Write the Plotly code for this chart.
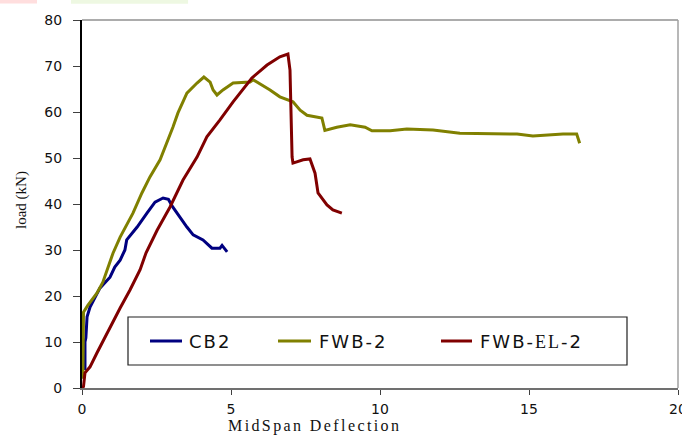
import plotly.graph_objects as go

# Load–deflection curves (deflection in mm, load in kN)
cb2_x = [0.1, 0.1, 0.13, 0.17, 0.27, 0.6, 0.94, 1.1, 1.28, 1.44, 1.5, 1.85, 2.18,
         2.45, 2.72, 2.9, 3.05, 3.19, 3.52, 3.73, 4.06, 4.36, 4.63, 4.7, 4.87]
cb2_y = [3.9, 10.0, 10.9, 15.5, 17.6, 21.7, 24.1, 26.3, 27.8, 30.0, 32.2, 35.0, 38.0,
         40.4, 41.3, 41.0, 39.3, 38.0, 35.0, 33.3, 32.2, 30.4, 30.4, 31.0, 29.6]

fwb2_x = [0.03, 0.04, 0.05, 0.2, 0.5, 0.7, 0.84, 1.04, 1.28, 1.71, 2.01, 2.28, 2.62,
          2.85, 3.05, 3.22, 3.52, 3.86, 4.09, 4.3, 4.4, 4.53, 4.73, 5.07, 5.64, 5.74,
          6.31, 6.64, 7.08, 7.32, 7.55, 8.05, 8.15, 8.55, 9.0, 9.5, 9.73, 10.34, 10.9,
          11.78, 12.68, 14.6, 15.13, 16.14, 16.6, 16.7]
fwb2_y = [2.0, 10.0, 16.5, 18.0, 20.6, 23.0, 25.7, 29.3, 32.8, 38.0, 42.4, 45.9, 49.6,
          53.2, 56.7, 59.8, 64.1, 66.3, 67.6, 66.5, 64.8, 63.7, 64.8, 66.3, 66.5, 67.0,
          64.8, 63.3, 62.2, 60.4, 59.3, 58.7, 56.0, 56.7, 57.2, 56.7, 55.9, 55.9, 56.3,
          56.1, 55.4, 55.2, 54.8, 55.2, 55.2, 53.2]

fwbel2_x = [0.0, 0.05, 0.1, 0.27, 0.5, 0.67, 0.94, 1.28, 1.61, 1.95, 2.15, 2.52, 2.95,
            3.39, 3.86, 4.19, 4.63, 5.07, 5.7, 6.21, 6.64, 6.91, 6.98, 7.02, 7.05, 7.08,
            7.42, 7.65, 7.72, 7.82, 7.92, 8.22, 8.42, 8.72]
fwbel2_y = [0.0, 0.3, 3.3, 4.6, 7.6, 9.8, 13.3, 17.4, 21.3, 25.7, 29.4, 34.3, 39.3,
            45.2, 50.2, 54.6, 58.3, 62.2, 67.4, 70.2, 72.0, 72.6, 69.1, 57.6, 50.2, 48.9,
            49.6, 49.8, 48.5, 46.7, 42.4, 39.8, 38.7, 38.0]

series_names = ["CB2", "FWB-2", "FWB-EL-2"]
series_colors = ["#000080", "#808000", "#800000"]
x_ticks = [0, 5, 10, 15, 20]
y_ticks = [0, 10, 20, 30, 40, 50, 60, 70, 80]

fig = go.Figure()
for name, xs, ys, col in zip(series_names,
                             [cb2_x, fwb2_x, fwbel2_x],
                             [cb2_y, fwb2_y, fwbel2_y],
                             series_colors):
    fig.add_trace(go.Scatter(x=xs, y=ys, mode="lines", name=name,
                             line=dict(color=col, width=3), showlegend=False))

tick_font = dict(family="DejaVu Sans, Arial", size=14, color="#111111")
fig.update_layout(
    width=682, height=435,
    margin=dict(l=82, r=4, t=20, b=47, autoexpand=False),
    paper_bgcolor="white", plot_bgcolor="white",
    xaxis=dict(range=[0, 20], tickvals=x_ticks, showgrid=False, zeroline=False,
               showline=True, linecolor="#707070", linewidth=2, automargin=False,
               ticks="outside", ticklen=5, tickcolor="#404040", tickwidth=1,
               tickfont=tick_font, ticklabelstandoff=2, ticklabeloverflow="allow"),
    yaxis=dict(range=[0, 80], tickvals=y_ticks, showgrid=False, zeroline=False,
               showline=True, linecolor="#000000", linewidth=2, automargin=False,
               ticks="outside", ticklen=7, tickcolor="#404040", tickwidth=1,
               tickfont=tick_font, ticklabelstandoff=8, ticklabeloverflow="allow"),
)

# Top and right frame lines
fig.add_shape(type="line", xref="paper", yref="paper", x0=0, x1=1, y0=1, y1=1,
              line=dict(color="#909090", width=1.5))
fig.add_shape(type="line", xref="paper", yref="paper", x0=1, x1=1, y0=0, y1=1,
              line=dict(color="#a0a0a0", width=1.5))

# Faint colour bands along the top edge
fig.add_shape(type="rect", xref="paper", yref="paper", x0=-0.1376, x1=-0.0755,
              y0=1.045, y1=1.06, line=dict(width=0), fillcolor="#ffdede")
fig.add_shape(type="rect", xref="paper", yref="paper", x0=-0.0185, x1=0.178,
              y0=1.044, y1=1.06, line=dict(width=0), fillcolor="#eef8e2")

# Axis titles
fig.add_annotation(text="<span style='letter-spacing:2.4px'>MidSpan Deflection</span>",
                   xref="paper", yref="paper", x=(314 - 82) / 596, y=(388 - 426) / 368,
                   showarrow=False, xanchor="center", yanchor="middle",
                   font=dict(family="Liberation Serif, Times New Roman", size=16, color="#111111"))
fig.add_annotation(text="load (kN)", textangle=-90,
                   xref="paper", yref="paper", x=(22 - 82) / 596, y=(388 - 200) / 368,
                   showarrow=False, xanchor="center", yanchor="middle",
                   font=dict(family="Liberation Serif, Times New Roman", size=15, color="#111111"))

# Legend box drawn in paper coordinates
px = lambda p: (p - 82) / 596
py = lambda p: (388 - p) / 368
fig.add_shape(type="rect", xref="paper", yref="paper", x0=px(128), x1=px(627),
              y0=py(365), y1=py(317), line=dict(color="#202020", width=1.2),
              fillcolor="white", layer="above")
leg_line_x = [(150, 182), (278, 311), (441, 472)]
leg_text_x = [187, 317, 478]
leg_labels = ["CB2", "FWB-2", "FWB-<span style='font-family:Liberation Serif'>EL</span>-2"]
for (a, b), tx, lab, col in zip(leg_line_x, leg_text_x, leg_labels, series_colors):
    fig.add_shape(type="line", xref="paper", yref="paper", x0=px(a), x1=px(b),
                  y0=py(341), y1=py(341), line=dict(color=col, width=3), layer="above")
    fig.add_annotation(text="<span style='letter-spacing:2px'>" + lab + "</span>",
                       xref="paper", yref="paper", x=px(tx), y=py(341),
                       showarrow=False, xanchor="left", yanchor="middle",
                       font=dict(family="DejaVu Sans, Arial", size=18, color="#111111"))

fig.write_html("out.html")
